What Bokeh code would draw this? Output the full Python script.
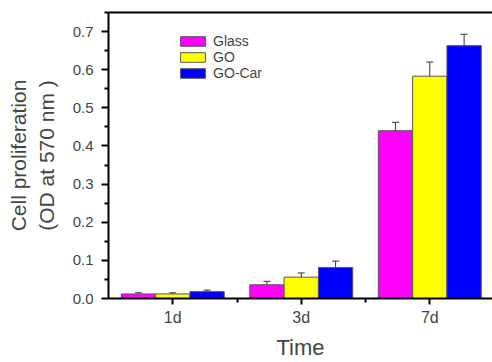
from bokeh.plotting import figure
from bokeh.models import (ColumnDataSource, Whisker, FixedTicker, LinearAxis,
                          Legend, LegendItem, Range1d)
from bokeh.embed import file_html
from bokeh.resources import INLINE

categories = ["1d", "3d", "7d"]
series_names = ["Glass", "GO", "GO-Car"]
colors = ["#FF00FF", "#FFFF00", "#0000FF"]
glass = [0.012, 0.036, 0.440]
go = [0.012, 0.056, 0.583]
gocar = [0.018, 0.081, 0.663]
glass_err = [0.003, 0.009, 0.022]
go_err = [0.003, 0.011, 0.037]
gocar_err = [0.004, 0.017, 0.030]
y_ticks = [0.0, 0.1, 0.2, 0.3, 0.4, 0.5, 0.6, 0.7]

FONT = "Liberation Sans"
bar_w = 0.267
offsets = [-bar_w, 0.0, bar_w]

p = figure(width=492, height=362, output_backend="svg", toolbar_location=None,
           x_range=Range1d(0.5, 3.488), y_range=Range1d(0.0, 0.75),
           min_border_left=108, min_border_right=0, min_border_top=12,
           min_border_bottom=64)
p.outline_line_color = None
p.grid.grid_line_color = None
p.background_fill_color = "white"

xa = p.below[0]
ya = p.left[0]

values = [glass, go, gocar]
errs = [glass_err, go_err, gocar_err]
items = []
for name, col, vals, err, off in zip(series_names, colors, values, errs, offsets):
    xs = [i + 1 + off for i in range(len(categories))]
    src = ColumnDataSource(dict(x=xs, top=vals,
                                lo=[v - e for v, e in zip(vals, err)],
                                hi=[v + e for v, e in zip(vals, err)]))
    r = p.vbar(x="x", top="top", bottom=0, width=bar_w, source=src,
               fill_color=col, line_color="#555555", line_width=1)
    w = Whisker(base="x", lower="lo", upper="hi", source=src,
                line_color="#333333", line_width=1)
    w.upper_head.size = 7
    w.lower_head.size = 7
    w.upper_head.line_color = "#333333"
    w.lower_head.line_color = "#333333"
    p.add_layout(w)
    items.append(LegendItem(label=name, renderers=[r]))

legend = Legend(items=items, location=(69, 217), padding=0, margin=0,
                spacing=0, glyph_width=31, glyph_height=12,
                label_text_font=FONT, label_text_font_size="14px",
                label_standoff=5, border_line_color=None,
                background_fill_alpha=0)
p.add_layout(legend)

# top frame line (tickless axis)
top_axis = LinearAxis(axis_line_width=2, axis_line_color="black",
                      major_tick_line_color=None, minor_tick_line_color=None,
                      major_label_text_font_size="0px", major_label_standoff=0,
                      major_tick_out=0, minor_tick_out=0,
                      ticker=FixedTicker(ticks=[]))
p.add_layout(top_axis, "above")

# x axis
xa.ticker = FixedTicker(ticks=[1, 2, 3], minor_ticks=[1.5, 2.5])
xa.major_label_overrides = {1: categories[0], 2: categories[1], 3: categories[2]}
xa.axis_label = "Time"
xa.axis_label_text_font = FONT
xa.axis_label_text_font_style = "normal"
xa.axis_label_text_font_size = "22px"
xa.axis_label_standoff = 6
xa.major_label_text_font = FONT
xa.major_label_text_font_size = "16px"
xa.major_label_standoff = 4
xa.axis_line_width = 2
xa.major_tick_line_width = 2
xa.minor_tick_line_width = 2
xa.major_tick_out = 6
xa.major_tick_in = 0
xa.minor_tick_out = 4
xa.minor_tick_in = 0

# y axis
ya.ticker = FixedTicker(ticks=y_ticks,
                        minor_ticks=[t + 0.05 for t in y_ticks])
ya.major_label_overrides = {t: f"{t:.1f}" for t in y_ticks}
ya.axis_label = "(OD at 570 nm )"
ya.axis_label_text_font = FONT
ya.axis_label_text_font_style = "normal"
ya.axis_label_text_font_size = "21px"
ya.axis_label_standoff = 12
ya.major_label_text_font = FONT
ya.major_label_text_font_size = "15px"
ya.major_label_standoff = 8
ya.axis_line_width = 2
ya.major_tick_line_width = 2
ya.minor_tick_line_width = 2
ya.major_tick_out = 7
ya.major_tick_in = 0
ya.minor_tick_out = 4
ya.minor_tick_in = 0

ya2 = LinearAxis(axis_label="Cell proliferation", axis_line_color=None,
                 major_tick_line_color=None, minor_tick_line_color=None,
                 major_label_text_font_size="0px", major_label_standoff=0,
                 axis_label_text_font=FONT, axis_label_text_font_style="normal",
                 axis_label_text_font_size="21px", axis_label_standoff=2,
                 major_tick_out=0, minor_tick_out=0,
                 ticker=FixedTicker(ticks=[]))
p.add_layout(ya2, "left")

open("out.html", "w").write(file_html(p, INLINE))
